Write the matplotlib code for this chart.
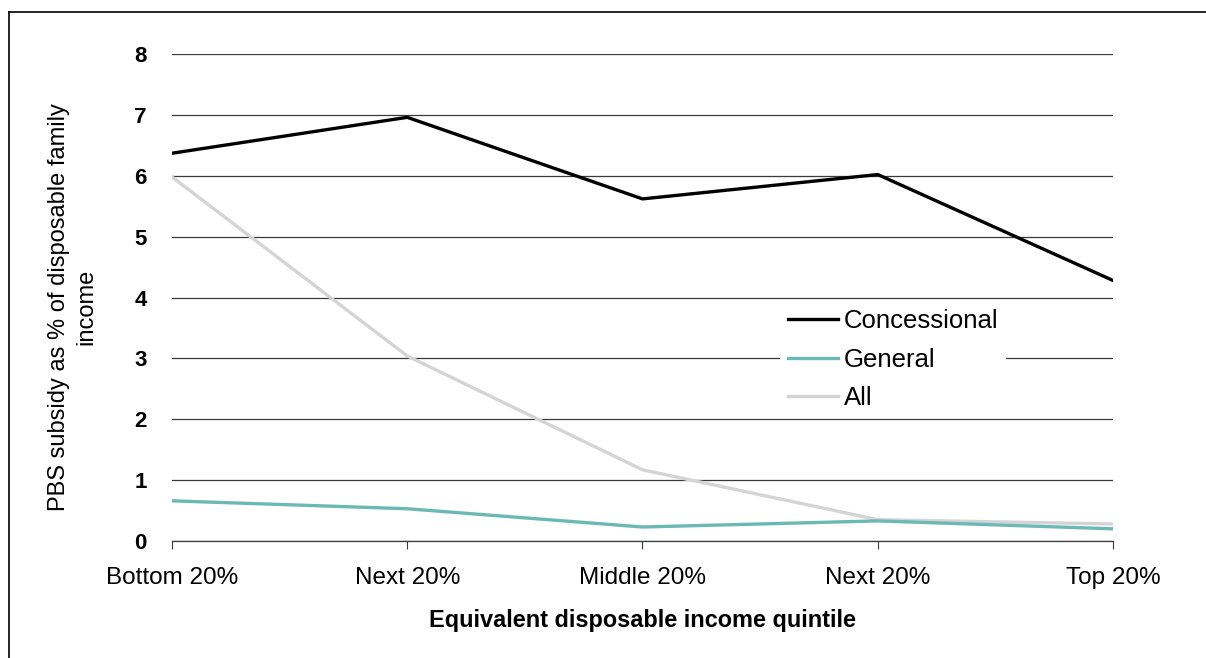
import matplotlib
matplotlib.use("Agg")
import matplotlib.pyplot as plt
from matplotlib.lines import Line2D
import numpy as np

plt.rcParams['font.family'] = ['Liberation Sans', 'DejaVu Sans']

quintiles = ['Bottom 20%', 'Next 20%', 'Middle 20%', 'Next 20%', 'Top 20%']
concessional = [6.37, 6.96, 5.62, 6.02, 4.28]
general = [0.66, 0.53, 0.23, 0.33, 0.20]
all_ = [5.98, 3.04, 1.17, 0.35, 0.28]

fig = plt.figure(figsize=(12.06, 6.58), dpi=100)
ax = fig.add_axes([0.1426, 0.1778, 0.7803, 0.7401])

x = np.arange(len(quintiles))
ax.plot(x, all_, color='#d4d4d4', lw=2.4, label='All', zorder=3)
ax.plot(x, general, color='#6bb9b6', lw=2.4, label='General', zorder=4)
ax.plot(x, concessional, color='black', lw=2.4, label='Concessional', zorder=5)

ax.set_xlim(0, 4)
ax.set_ylim(0, 8)
ax.set_yticks(range(0, 9))
ax.yaxis.grid(True, color='#3a3a3a', lw=0.9)
ax.set_axisbelow(True)
for s in ['top', 'right', 'left']:
    ax.spines[s].set_visible(False)
ax.spines['bottom'].set_color('#3a3a3a')
ax.spines['bottom'].set_linewidth(0.9)

ax.set_xticks(x)
ax.set_xticklabels(quintiles, fontsize=17.5)
ax.tick_params(axis='x', direction='out', length=6, color='#3a3a3a', pad=13)
ax.tick_params(axis='y', length=0, pad=18, labelsize=16)
for lab in ax.get_yticklabels():
    lab.set_fontweight('bold')

ax.set_xlabel('Equivalent disposable income quintile', fontsize=16.9, fontweight='bold', labelpad=14)
ax.set_ylabel('PBS subsidy as % of disposable family\nincome', fontsize=17, linespacing=1.32)
ax.yaxis.set_label_coords(-0.079, 0.48)

handles, labels = ax.get_legend_handles_labels()
order = [2, 1, 0]
leg = ax.legend([handles[i] for i in order], [labels[i] for i in order],
                loc='upper left', bbox_to_anchor=(0.646, 0.493), fontsize=18.5,
                frameon=True, framealpha=1, edgecolor='none', fancybox=False,
                handlelength=1.95, handletextpad=0.25, labelspacing=0.58,
                borderpad=0.3, borderaxespad=0)

# frame lines on top and left edges of the image
fig.add_artist(Line2D([9 / 1206, 1], [1 - 12 / 658, 1 - 12 / 658], color='black', lw=1.2, transform=fig.transFigure))
fig.add_artist(Line2D([9 / 1206, 9 / 1206], [0, 1 - 12 / 658], color='black', lw=1.2, transform=fig.transFigure))

fig.savefig('out.png', dpi=100)
